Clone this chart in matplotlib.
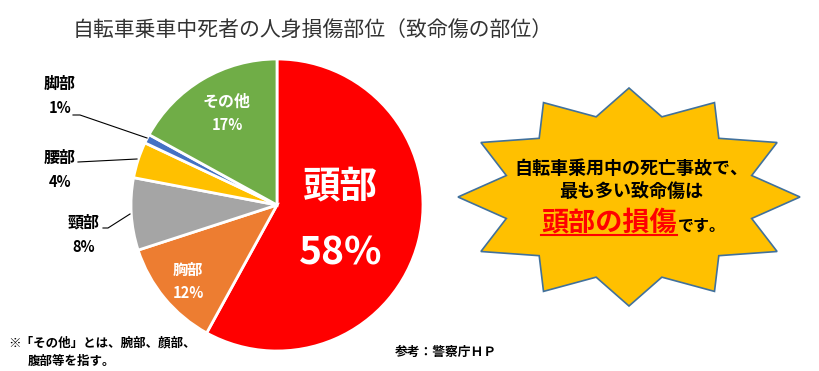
import numpy as np
import matplotlib.pyplot as plt
from matplotlib.patches import Polygon

plt.rcParams['font.family'] = ['Noto Sans CJK JP', 'DejaVu Sans']

# データ（致命傷の部位、%）
parts = ['頭部', '胸部', '頸部', '腰部', '脚部', 'その他']
shares = [58, 12, 8, 4, 1, 17]
colors = ['#FF0000', '#ED7D31', '#A5A5A5', '#FFC000', '#4472C4', '#70AD47']

title = '自転車乗車中死者の人身損傷部位（致命傷の部位）'
note1 = '※「その他」とは、腕部、顔部、'
note2 = '腹部等を指す。'
source = '参考：警察庁ＨＰ'

fig = plt.figure(figsize=(8.2, 3.71), dpi=100)
ax = fig.add_axes([0, 0, 1, 1])

# y軸を下向きにしているので、startangle=-90 で真上から時計回り
ax.pie(shares, colors=colors, startangle=-90, counterclock=True,
       center=(277, 205), radius=146,
       wedgeprops=dict(edgecolor='white', linewidth=2))
ax.set_xlim(0, 820)
ax.set_ylim(371, 0)
ax.set_aspect('equal')
ax.axis('off')

ax.text(73, 30, title, fontsize=15, color='#333333', va='center', ha='left')

# 円の中のラベル
ax.text(340, 186, parts[0], fontsize=27, color='white', fontweight='bold', ha='center', va='center')
ax.text(341, 253, f'{shares[0]}%', fontsize=28, color='white', fontweight='bold', ha='center', va='center')
ax.text(188, 270, parts[1], fontsize=11, color='white', fontweight='bold', ha='center', va='center')
ax.text(188, 293, f'{shares[1]}%', fontsize=10.5, color='white', fontweight='bold', ha='center', va='center')
ax.text(227, 102, parts[5], fontsize=11.5, color='white', fontweight='bold', ha='center', va='center')
ax.text(227, 125, f'{shares[5]}%', fontsize=10.5, color='white', fontweight='bold', ha='center', va='center')

# 外側のラベルと引き出し線
outside = [(4, 60, 84, [(73, 115), (80, 115), (147, 138)]),
           (3, 60, 158, [(78, 162), (137, 159)]),
           (2, 84, 223, [(103, 228), (108, 228), (130, 214)])]
for i, x, y, pts in outside:
    ax.text(x, y, parts[i], fontsize=11.5, fontweight='bold', ha='center', va='center')
    ax.text(x, y + 24, f'{shares[i]}%', fontsize=10.5, fontweight='bold', ha='center', va='center')
    xs, ys = zip(*pts)
    ax.plot(xs, ys, color='black', linewidth=0.8)

# 星形の吹き出し
cx, cy = 629, 197
ang = np.deg2rad(90 - np.arange(24) * 15)
rx = np.where(np.arange(24) % 2 == 0, 171, 127)
ry = np.where(np.arange(24) % 2 == 0, 109, 83)
star = Polygon(np.column_stack([cx + rx * np.cos(ang), cy - ry * np.sin(ang)]),
               closed=True, facecolor='#FFC000', edgecolor='#41719C', linewidth=1.2)
ax.add_patch(star)

ax.text(631, 168, '自転車乗用中の死亡事故で、', fontsize=13, fontweight='bold', ha='center', va='center')
ax.text(631, 191, '最も多い致命傷は', fontsize=13, fontweight='bold', ha='center', va='center')
ax.text(677, 231, '頭部の損傷', fontsize=19.5, fontweight='bold', color='#FF0000', ha='right', va='baseline')
ax.text(678, 231, 'です。', fontsize=11.5, fontweight='bold', ha='left', va='baseline')
ax.plot([541, 677], [235, 235], color='#FF0000', linewidth=1.5)

ax.text(8, 343, note1, fontsize=9, fontweight='bold', ha='left', va='center')
ax.text(28, 361, note2, fontsize=9, fontweight='bold', ha='left', va='center')
ax.text(395, 352, source, fontsize=9.2, fontweight='bold', ha='left', va='center')

fig.savefig('out.png', dpi=100)
